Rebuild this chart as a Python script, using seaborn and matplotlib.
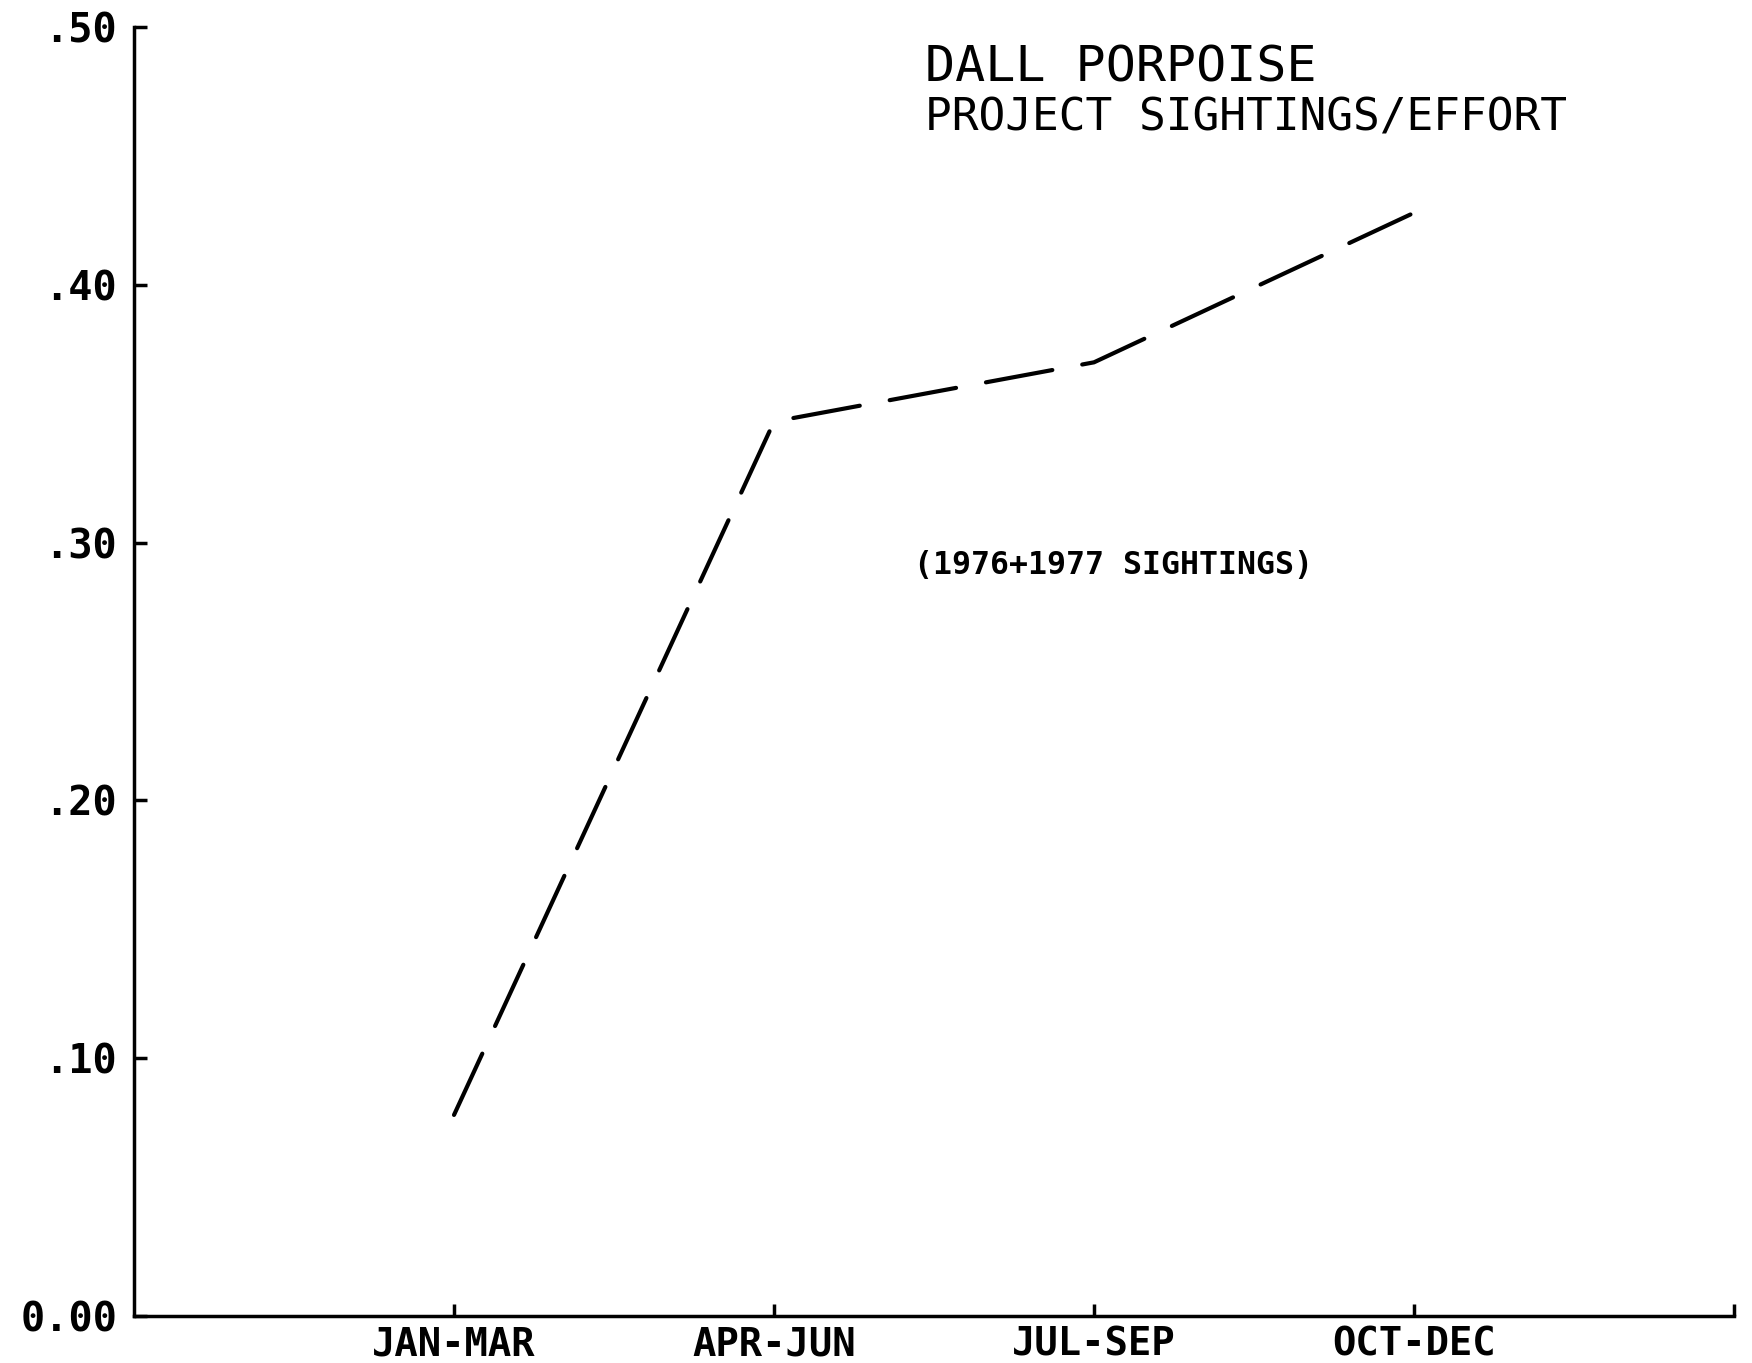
import matplotlib
matplotlib.use("Agg")
import matplotlib.pyplot as plt
import seaborn as sns
import pandas as pd

# Quarterly sightings per unit effort, 1976 + 1977 combined
quarters = ["JAN-MAR", "APR-JUN", "JUL-SEP", "OCT-DEC"]
sightings_per_effort = [0.078, 0.347, 0.370, 0.428]
ytick_values = [0.0, 0.1, 0.2, 0.3, 0.4, 0.5]
ytick_labels = ["0.00", ".10", ".20", ".30", ".40", ".50"]

df = pd.DataFrame({"quarter": quarters, "rate": sightings_per_effort})

sns.set_theme(style="white")
plt.rcParams["font.family"] = ["DejaVu Sans Mono", "DejaVu Sans"]

fig = plt.figure(figsize=(17.52, 13.63), dpi=100)
ax = fig.add_axes([0.0765, 0.0345, 0.9132, 0.9455])

sns.lineplot(data=df, x="quarter", y="rate", ax=ax, color="black",
             linewidth=3.0, linestyle=(0, (16.2, 7.3)),
             dash_capstyle="round", sort=False)

ax.set_xlim(-1, 4)
ax.set_ylim(0, 0.5)

ax.set_xticks(list(range(len(quarters) + 1)))
ax.set_xticklabels(quarters + [""], fontsize=28, fontweight="bold")
ax.set_yticks(ytick_values)
ax.set_yticklabels(ytick_labels, fontsize=29, fontweight="bold")

ax.set_xlabel("")
ax.set_ylabel("")

for side in ("top", "right"):
    ax.spines[side].set_visible(False)
for side in ("left", "bottom"):
    ax.spines[side].set_color("black")
    ax.spines[side].set_linewidth(2.5)

ax.tick_params(axis="both", direction="in", length=9, width=2.5,
               colors="black", bottom=True, left=True)
ax.tick_params(axis="y", pad=12)
ax.tick_params(axis="x", pad=7)

ax.text(1.472, 0.479, "DALL PORPOISE", fontsize=36, color="black",
        ha="left", va="baseline")
ax.text(1.472, 0.460, "PROJECT SIGHTINGS/EFFORT", fontsize=32, color="black",
        ha="left", va="baseline")
ax.text(1.437, 0.2877, "(1976+1977 SIGHTINGS)", fontsize=22.7, color="black",
        fontweight="bold", ha="left", va="baseline")

fig.savefig("out.png", dpi=100, facecolor="white")
